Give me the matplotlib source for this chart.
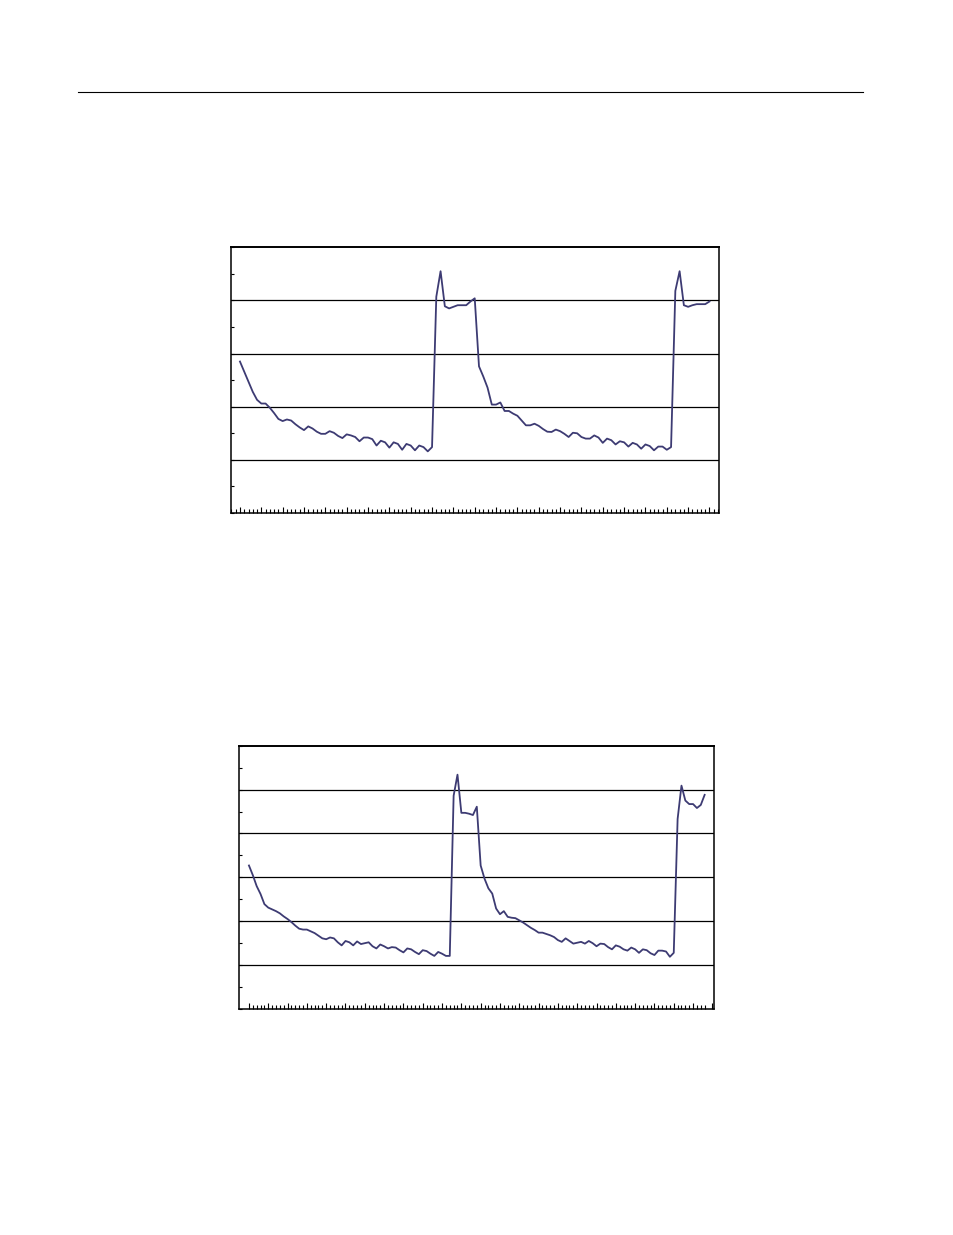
import matplotlib
matplotlib.use("Agg")
import matplotlib.pyplot as plt
from matplotlib.lines import Line2D
from matplotlib.ticker import MultipleLocator

# values (no axis labels in the original)
top_values = [2.85, 2.66, 2.47, 2.28, 2.13, 2.06, 2.06, 1.98, 1.88, 1.77,
              1.73, 1.76, 1.74, 1.67, 1.61, 1.56, 1.63, 1.59, 1.53, 1.49,
              1.49, 1.54, 1.51, 1.45, 1.41, 1.48, 1.46, 1.43, 1.35, 1.42,
              1.42, 1.39, 1.27, 1.36, 1.33, 1.23, 1.33, 1.30, 1.19, 1.30,
              1.27, 1.18, 1.27, 1.24, 1.16, 1.24, 4.07, 4.55, 3.89, 3.85,
              3.88, 3.91, 3.91, 3.91, 3.98, 4.04, 2.76, 2.57, 2.36, 2.04,
              2.04, 2.08, 1.92, 1.92, 1.87, 1.83, 1.74, 1.65, 1.65, 1.68,
              1.64, 1.58, 1.53, 1.525, 1.57, 1.54, 1.49, 1.43, 1.51, 1.50,
              1.43, 1.40, 1.40, 1.46, 1.42, 1.32, 1.40, 1.37, 1.29, 1.35,
              1.33, 1.25, 1.32, 1.29, 1.21, 1.29, 1.26, 1.18, 1.25, 1.25,
              1.19, 1.24, 4.18, 4.55, 3.91, 3.88, 3.91, 3.93, 3.93, 3.93,
              3.98]

bottom_values = [3.27, 3.05, 2.80, 2.62, 2.39, 2.31, 2.27, 2.23, 2.18, 2.11,
                 2.05, 1.98, 1.90, 1.83, 1.81, 1.81, 1.77, 1.73, 1.67, 1.61,
                 1.59, 1.63, 1.61, 1.52, 1.45, 1.55, 1.52, 1.45, 1.54, 1.48,
                 1.50, 1.52, 1.43, 1.38, 1.47, 1.43, 1.38, 1.41, 1.40, 1.34,
                 1.29, 1.38, 1.36, 1.30, 1.25, 1.34, 1.32, 1.26, 1.21, 1.30,
                 1.26, 1.21, 1.21, 4.86, 5.34, 4.47, 4.47, 4.45, 4.42, 4.61,
                 3.27, 2.97, 2.75, 2.63, 2.29, 2.16, 2.23, 2.10, 2.08, 2.07,
                 2.02, 1.97, 1.91, 1.85, 1.80, 1.74, 1.74, 1.71, 1.68, 1.64,
                 1.57, 1.53, 1.61, 1.55, 1.49, 1.51, 1.53, 1.49, 1.55, 1.50,
                 1.43, 1.49, 1.48, 1.41, 1.36, 1.45, 1.42, 1.36, 1.33, 1.40,
                 1.36, 1.28, 1.36, 1.34, 1.27, 1.23, 1.33, 1.33, 1.31, 1.19,
                 1.28, 4.33, 5.09, 4.75, 4.67, 4.67, 4.58, 4.65, 4.88]

line_color = "#3d3b73"


def style_axes(ax, n, ymax, xlim):
    ax.set_xlim(*xlim)
    ax.set_ylim(0, ymax)
    ax.xaxis.set_major_locator(MultipleLocator(5))
    ax.xaxis.set_minor_locator(MultipleLocator(1))
    ax.yaxis.set_major_locator(MultipleLocator(1))
    ax.yaxis.set_minor_locator(MultipleLocator(0.5))
    ax.tick_params(axis="both", which="both", direction="in", color="black",
                   labelbottom=False, labelleft=False, left=True, bottom=True,
                   top=False, right=False, width=0.8)
    ax.tick_params(axis="x", which="major", length=4.5)
    ax.tick_params(axis="x", which="minor", length=2.8)
    ax.tick_params(axis="y", which="both", length=2.2)
    for s in ax.spines.values():
        s.set_color("black")
        s.set_linewidth(1.1)
    ax.spines["top"].set_linewidth(1.4)
    for y in range(1, ymax):
        ax.axhline(y, color="black", linewidth=0.9, zorder=1)
    ax.set_axisbelow(True)


fig = plt.figure(figsize=(9.54, 12.35), dpi=100)

# thin rule at the top of the page
fig.add_artist(Line2D([78 / 954, 863 / 954], [1 - 92 / 1235, 1 - 92 / 1235],
                      color="black", linewidth=0.8))

ax1 = fig.add_axes([231 / 954, 1 - 513 / 1235, 488.3 / 954, 265.7 / 1235])
ax1.plot(range(len(top_values)), top_values, color=line_color,
         linewidth=1.3, zorder=3)
style_axes(ax1, len(top_values), 5, (-2.1, 112.3))

ax2 = fig.add_axes([239.3 / 954, 1 - 1009 / 1235, 475 / 954, 263.3 / 1235])
ax2.plot(range(len(bottom_values)), bottom_values, color=line_color,
         linewidth=1.3, zorder=3)
style_axes(ax2, len(bottom_values), 6, (-2.5, 120.5))
ax2.set_xticks([i for i in range(len(bottom_values))], minor=True)

fig.savefig("out.png", dpi=100)
